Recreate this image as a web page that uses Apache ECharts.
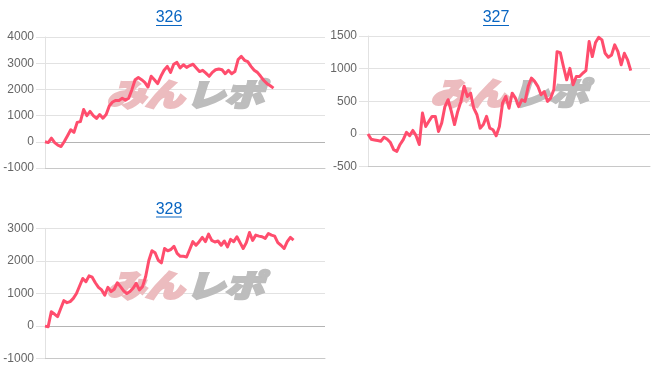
<!DOCTYPE html>
<html>
<head>
<meta charset="utf-8">
<script src="https://cdn.jsdelivr.net/npm/echarts@6/dist/echarts.min.js"></script>
<style>
html,body{margin:0;padding:0;background:#fff;}
#c{width:652px;height:382px;}
</style>
</head>
<body>
<div id="c"></div>
<script>
const titles = ['326', '327', '328'];

const values326 = [0, -30, 140, -30, -130, -180, 10, 230, 460, 360, 740, 770, 1230, 1000, 1160, 1000, 890, 1040, 900, 1040,
  1380, 1520, 1580, 1580, 1660, 1590, 1660, 1990, 2370, 2450, 2370, 2270, 2090, 2500, 2370, 2220, 2500, 2730, 2880, 2650,
  2960, 3030, 2820, 2940, 2840, 2910, 2960, 2820, 2680, 2730, 2620, 2500, 2650, 2750, 2780, 2750, 2600, 2730, 2600, 2680,
  3140, 3260, 3110, 3060, 2880, 2730, 2650, 2500, 2340, 2220, 2140, 2050];

const values327 = [0, -80, -90, -100, -110, -50, -80, -130, -240, -265, -160, -85, 25, -25, 55, -25, -160, 320, 115, 195,
  270, 270, 40, 170, 420, 525, 345, 145, 345, 500, 730, 575, 625, 395, 295, 90, 145, 270, 90, 65,
  -25, 115, 475, 575, 395, 625, 550, 420, 525, 500, 730, 855, 805, 730, 600, 650, 500, 550, 680, 1260,
  1245, 1030, 830, 1005, 755, 880, 880, 930, 970, 1415, 1185, 1400, 1480, 1440, 1235, 1175, 1210, 1365, 1260, 1060,
  1235, 1135, 970];

const values328 = [0, -20, 440, 370, 290, 540, 780, 720, 750, 850, 1000, 1230, 1460, 1360, 1540, 1500, 1330, 1190, 1110, 950,
  1190, 1060, 1130, 1330, 1210, 1080, 1000, 1060, 1160, 1310, 1110, 1210, 1520, 2010, 2310, 2250, 2020, 1940, 2380, 2310,
  2350, 2450, 2230, 2140, 2140, 2120, 2350, 2590, 2480, 2590, 2720, 2590, 2820, 2630, 2580, 2610, 2480, 2610, 2430, 2660,
  2590, 2740, 2560, 2380, 2560, 2870, 2630, 2790, 2760, 2740, 2690, 2840, 2790, 2760, 2560, 2480, 2380, 2590, 2720, 2640];

// number of x slots on each axis (line does not reach the right edge)
const slotCounts = [88, 89, 90];
const yMins = [-1000, -500, -1000];
const yMaxs = [4000, 1500, 3000];
const yIntervals = [1000, 500, 1000];

const seriesValues = [values326, values327, values328];

const grids = [
  {left: 45, top: 37, width: 280, height: 131},
  {left: 368, top: 36, width: 282, height: 130.7},
  {left: 45, top: 228.3, width: 280, height: 130.4}
];
const titlePos = [[169, 18], [496, 18], [169, 209.5]];

const chart = echarts.init(document.getElementById('c'), null, {renderer: 'canvas'});

const xAxes = [], yAxes = [], series = [], graphics = [];
for (let i = 0; i < 3; i++) {
  const cats = [];
  for (let k = 0; k < slotCounts[i]; k++) cats.push(String(k));
  xAxes.push({
    gridIndex: i, type: 'category', data: cats, boundaryGap: false,
    axisLine: {show: true, onZero: false, lineStyle: {color: '#c8c8c8'}},
    axisTick: {show: false}, axisLabel: {show: false}, splitLine: {show: false}
  });
  yAxes.push({
    gridIndex: i, type: 'value', min: yMins[i], max: yMaxs[i], interval: yIntervals[i],
    axisLine: {show: true, lineStyle: {color: '#e2e2e2'}},
    axisTick: {show: true, length: 9, lineStyle: {color: '#e2e2e2'}},
    axisLabel: {color: '#666', fontSize: 12, fontFamily: 'Liberation Sans, Arial, sans-serif', margin: 11,
      formatter: v => String(v)},
    splitLine: {show: true, lineStyle: {color: '#e2e2e2'}}
  });
  series.push({
    type: 'line', xAxisIndex: i, yAxisIndex: i, data: seriesValues[i],
    showSymbol: false, symbol: 'none', smooth: false, z: 5,
    lineStyle: {color: '#ff4d6d', width: 3, join: 'round'},
    itemStyle: {color: '#ff4d6d'},
    markLine: {
      silent: true, symbol: 'none', label: {show: false}, z: 3,
      lineStyle: {color: '#b4b4b4', width: 1, type: 'solid'},
      data: [{yAxis: 0}]
    }
  });
  const g = grids[i];
  const cx = g.left + g.width / 2;
  const cy = g.top + g.height / 2 - 8;
  graphics.push({
    type: 'text', x: cx - 1, y: cy, z: 1, silent: true,
    style: {text: 'みん', fill: '#ecbcbf', stroke: '#ecbcbf', lineWidth: 2.5,
      font: 'italic 900 31px "Noto Sans CJK JP"',
      textAlign: 'right', textVerticalAlign: 'middle'},
    scaleX: 1.25
  });
  graphics.push({
    type: 'text', x: cx + 1, y: cy, z: 1, silent: true,
    style: {text: 'レポ', fill: '#bdbdbd', stroke: '#bdbdbd', lineWidth: 2.5,
      font: 'italic 900 31px "Noto Sans CJK JP"',
      textAlign: 'left', textVerticalAlign: 'middle'},
    scaleX: 1.25
  });
  const [tx, ty] = titlePos[i];
  graphics.push({
    type: 'text', x: tx, y: ty, z: 10,
    style: {text: titles[i], fill: '#0a66c2', font: '16px "Liberation Sans", Arial, sans-serif',
      textAlign: 'center', textVerticalAlign: 'middle'}
  });
  graphics.push({
    type: 'line', z: 10,
    shape: {x1: tx - 13, y1: ty + 7.5, x2: tx + 13, y2: ty + 7.5},
    style: {stroke: '#0a66c2', lineWidth: 1}
  });
}

chart.setOption({
  animation: false,
  grid: grids.map(g => Object.assign({containLabel: false}, g)),
  xAxis: xAxes,
  yAxis: yAxes,
  series: series,
  graphic: {elements: graphics}
});
</script>
</body>
</html>
